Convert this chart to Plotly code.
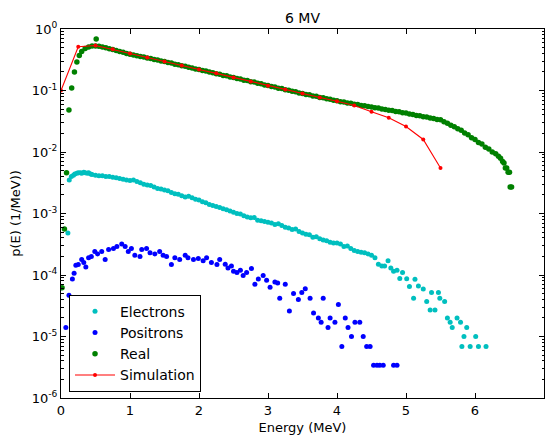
import plotly.graph_objects as go

# ---------------- data ----------------
electron_energy = [0.10, 0.12, 0.15, 0.18, 0.20, 0.23, 0.25, 0.28, 0.30, 0.33, 0.35, 0.38, 0.40, 0.43, 0.45,
                   0.50, 0.55, 0.60, 0.65, 0.70, 0.75, 0.80, 0.85, 0.90, 0.95, 1.00, 1.05, 1.10, 1.15, 1.20,
                   1.25, 1.30, 1.35, 1.40, 1.45, 1.50, 1.55, 1.60, 1.65, 1.70, 1.75, 1.80, 1.85, 1.90, 1.95,
                   2.00, 2.05, 2.10, 2.15, 2.20, 2.25, 2.30, 2.35, 2.40, 2.45, 2.50, 2.55, 2.60, 2.65, 2.70,
                   2.75, 2.80, 2.85, 2.90, 2.95, 3.00, 3.05, 3.10, 3.15, 3.20, 3.25, 3.30, 3.35, 3.40, 3.45,
                   3.50, 3.55, 3.60, 3.65, 3.70, 3.75, 3.80, 3.85, 3.90, 3.95, 4.00, 4.05, 4.10, 4.15, 4.20,
                   4.25, 4.30, 4.35, 4.40, 4.45, 4.50, 4.55, 4.60, 4.65, 4.69, 4.74, 4.78, 4.82, 4.87, 4.91,
                   4.95, 5.01, 5.05, 5.11, 5.13, 5.18, 5.25, 5.30, 5.35, 5.37, 5.42, 5.47, 5.49, 5.56, 5.60,
                   5.64, 5.67, 5.74, 5.79, 5.81, 5.84, 5.88, 5.93, 6.01, 6.05, 6.16]
electron_p = [4.8e-4, 3.5e-3, 4.0e-3, 4.2e-3, 4.4e-3, 4.5e-3, 4.6e-3, 4.6e-3, 4.5e-3, 4.7e-3, 4.6e-3, 4.5e-3, 4.6e-3, 4.4e-3, 4.3e-3,
              4.2e-3, 4.1e-3, 4.1e-3, 4.0e-3, 4.0e-3, 3.9e-3, 3.8e-3, 3.7e-3, 3.6e-3, 3.5e-3, 3.45e-3, 3.5e-3, 3.3e-3, 3.15e-3, 3.0e-3,
              2.9e-3, 2.85e-3, 2.7e-3, 2.55e-3, 2.5e-3, 2.4e-3, 2.35e-3, 2.2e-3, 2.1e-3, 2.05e-3, 1.95e-3, 1.85e-3, 1.9e-3, 1.8e-3, 1.7e-3,
              1.65e-3, 1.55e-3, 1.5e-3, 1.4e-3, 1.35e-3, 1.3e-3, 1.25e-3, 1.2e-3, 1.15e-3, 1.1e-3, 1.05e-3, 1.0e-3, 9.8e-4, 9.2e-4, 8.8e-4,
              8.5e-4, 8.6e-4, 7.8e-4, 7.6e-4, 7.4e-4, 7.2e-4, 7.0e-4, 6.6e-4, 6.8e-4, 6.4e-4, 6.0e-4, 5.8e-4, 5.5e-4, 5.6e-4, 5.1e-4,
              4.8e-4, 4.6e-4, 4.5e-4, 4.1e-4, 4.2e-4, 3.9e-4, 3.7e-4, 3.6e-4, 3.4e-4, 3.3e-4, 3.3e-4, 3.2e-4, 2.9e-4, 2.95e-4, 2.7e-4,
              2.5e-4, 2.4e-4, 2.35e-4, 2.3e-4, 2.2e-4, 2.1e-4, 1.9e-4, 1.5e-4, 1.4e-4, 1.4e-4, 1.7e-4, 1.3e-4, 1.15e-4, 1.2e-4, 8.8e-5,
              1.1e-4, 8.7e-5, 6.5e-5, 4.2e-5, 8.5e-5, 6.6e-5, 5.9e-5, 3.7e-5, 2.7e-5, 5.2e-5, 2.7e-5, 5.2e-5, 4.2e-5, 3.7e-5, 2.0e-5,
              1.7e-5, 1.4e-5, 2.0e-5, 1.7e-5, 6.9e-6, 1.0e-5, 1.4e-5, 6.9e-6, 1.0e-5, 6.9e-6, 6.9e-6]

positron_energy = [0.07, 0.115, 0.165, 0.19, 0.215, 0.25, 0.30, 0.33, 0.36, 0.40, 0.44, 0.49, 0.53, 0.59, 0.64,
                   0.69, 0.76, 0.81, 0.88, 0.93, 0.975, 1.02, 1.07, 1.145, 1.17, 1.24, 1.29, 1.36, 1.43, 1.48,
                   1.53, 1.60, 1.65, 1.72, 1.80, 1.84, 1.92, 1.99, 2.06, 2.11, 2.18, 2.26, 2.30, 2.38, 2.42,
                   2.47, 2.50, 2.55, 2.60, 2.64, 2.69, 2.76, 2.81, 2.86, 2.93, 2.98, 3.03, 3.10, 3.14, 3.17,
                   3.25, 3.31, 3.37, 3.44, 3.49, 3.54, 3.61, 3.66, 3.73, 3.77, 3.80, 3.87, 3.90, 3.97, 4.02,
                   4.07, 4.12, 4.16, 4.21, 4.26, 4.33, 4.38, 4.43, 4.48, 4.53, 4.58, 4.62, 4.67, 4.82, 4.87]
positron_p = [1.4e-5, 4.7e-5, 8.6e-5, 1.07e-4, 1.44e-4, 1.48e-4, 1.78e-4, 1.6e-4, 1.35e-4, 1.9e-4, 2.0e-4, 2.4e-4, 2.2e-4, 2.4e-4, 1.78e-4,
              2.6e-4, 2.7e-4, 2.9e-4, 3.2e-4, 2.9e-4, 2.4e-4, 2.7e-4, 2.1e-4, 2.0e-4, 2.6e-4, 2.7e-4, 2.3e-4, 2.2e-4, 2.4e-4, 2.1e-4,
              2.0e-4, 1.48e-4, 1.9e-4, 1.78e-4, 2.1e-4, 1.9e-4, 1.78e-4, 1.85e-4, 1.7e-4, 1.9e-4, 1.6e-4, 1.48e-4, 1.78e-4, 1.5e-4, 1.3e-4,
              1.4e-4, 1.15e-4, 1.1e-4, 1.2e-4, 9.8e-5, 1.1e-4, 1.28e-4, 7.1e-5, 8.6e-5, 9.8e-5, 8.2e-5, 6.3e-5, 7.7e-5, 7.4e-5, 4.2e-5,
              7.1e-5, 2.6e-5, 5.0e-5, 4.0e-5, 5.2e-5, 6.0e-5, 4.2e-5, 2.4e-5, 2.0e-5, 1.7e-5, 4.2e-5, 1.4e-5, 2.0e-5, 1.7e-5, 3.3e-5,
              6.9e-6, 2.0e-5, 1.4e-5, 1.0e-5, 1.7e-5, 1.7e-5, 1.0e-5, 6.9e-6, 6.9e-6, 3.4e-6, 3.4e-6, 3.4e-6, 3.4e-6, 3.4e-6, 3.4e-6]

real_energy = [0.015, 0.05, 0.08, 0.115, 0.155, 0.195, 0.23, 0.265, 0.30, 0.35, 0.40, 0.45, 0.50, 0.51,
               0.55, 0.60, 0.65, 0.70, 0.75, 0.80, 0.85, 0.90, 0.95, 1.00, 1.05, 1.10, 1.15, 1.20, 1.25,
               1.30, 1.35, 1.40, 1.45, 1.50, 1.55, 1.60, 1.65, 1.70, 1.75, 1.80, 1.85, 1.90, 1.95, 2.00,
               2.05, 2.10, 2.15, 2.20, 2.25, 2.30, 2.35, 2.40, 2.45, 2.50, 2.55, 2.60, 2.65, 2.70, 2.75,
               2.80, 2.85, 2.90, 2.95, 3.00, 3.05, 3.10, 3.15, 3.20, 3.25, 3.30, 3.35, 3.40, 3.45, 3.50,
               3.55, 3.60, 3.65, 3.70, 3.75, 3.80, 3.85, 3.90, 3.95, 4.00, 4.05, 4.10, 4.15, 4.20, 4.25,
               4.30, 4.35, 4.40, 4.45, 4.50, 4.55, 4.60, 4.65, 4.70, 4.75, 4.80, 4.85, 4.90, 4.95, 5.00,
               5.05, 5.10, 5.15, 5.20, 5.25, 5.30, 5.35, 5.40, 5.45, 5.50, 5.55, 5.60, 5.65, 5.70, 5.75,
               5.80, 5.85, 5.90, 5.95, 6.00, 6.05, 6.10, 6.15, 6.20, 6.25, 6.30, 6.34, 6.37, 6.40, 6.42,
               6.44, 6.46, 6.48, 6.50, 6.51, 6.53]
real_p = [6.2e-5, 5.6e-4, 4.6e-3, 0.048, 0.11, 0.20, 0.29, 0.37, 0.43, 0.48, 0.51, 0.53, 0.53, 0.69,
          0.525, 0.51, 0.495, 0.478, 0.465, 0.447, 0.430, 0.418, 0.401, 0.390, 0.377, 0.369, 0.356, 0.349, 0.337,
          0.331, 0.319, 0.313, 0.301, 0.296, 0.285, 0.279, 0.268, 0.263, 0.252, 0.248, 0.238, 0.233, 0.224, 0.219,
          0.211, 0.207, 0.199, 0.195, 0.187, 0.184, 0.176, 0.173, 0.166, 0.163, 0.156, 0.154, 0.147, 0.145, 0.139,
          0.137, 0.131, 0.129, 0.123, 0.121, 0.116, 0.114, 0.109, 0.108, 0.103, 0.101, 0.0968, 0.0952, 0.0911, 0.0897,
          0.0861, 0.0849, 0.0815, 0.0803, 0.0771, 0.0760, 0.0731, 0.0719, 0.0691, 0.0680, 0.0658, 0.0650, 0.0628, 0.0620, 0.0600,
          0.0593, 0.0572, 0.0566, 0.0547, 0.0541, 0.0522, 0.0517, 0.0498, 0.0493, 0.0476, 0.0471, 0.0455, 0.0450, 0.0435, 0.0430,
          0.0414, 0.0409, 0.0394, 0.0389, 0.0375, 0.0370, 0.0357, 0.0352, 0.0339, 0.0333, 0.0309, 0.0293, 0.0271, 0.0258, 0.0238,
          0.0226, 0.0203, 0.0190, 0.0171, 0.0160, 0.0143, 0.0135, 0.0120, 0.0112, 0.0100, 0.0094, 0.0085, 0.0079, 0.0070, 0.0066,
          0.0055, 0.0055, 0.0047, 0.0047, 0.0027, 0.0027]

sim_energy = [0.0, 0.25, 0.5, 0.75, 1.0, 1.25, 1.5, 1.75, 2.0, 2.25, 2.5, 2.75, 3.0, 3.25, 3.5, 3.75,
              4.0, 4.25, 4.5, 4.75, 5.0, 5.25, 5.5]
sim_p = [0.10, 0.515, 0.54, 0.47, 0.40, 0.345, 0.295, 0.255, 0.22, 0.19, 0.163, 0.14, 0.12, 0.104, 0.089, 0.077,
         0.067, 0.057, 0.045, 0.036, 0.026, 0.016, 0.0055]

y_tick_vals = [1e-6, 1e-5, 1e-4, 1e-3, 1e-2, 1e-1, 1e0]
y_tick_text = ["10<sup>-6</sup>", "10<sup>-5</sup>", "10<sup>-4</sup>", "10<sup>-3</sup>",
               "10<sup>-2</sup>", "10<sup>-1</sup>", "10<sup>0</sup>"]
y_minor_vals = [m * 10.0 ** e for e in range(-6, 0) for m in range(2, 10)]

# ---------------- figure ----------------
fig = go.Figure()
fig.add_trace(go.Scatter(x=electron_energy, y=electron_p, mode="markers", name="Electrons",
                         marker=dict(color="#00BFBF", size=5, line=dict(width=0))))
fig.add_trace(go.Scatter(x=positron_energy, y=positron_p, mode="markers", name="Positrons",
                         marker=dict(color="#0000FF", size=5, line=dict(width=0))))
fig.add_trace(go.Scatter(x=real_energy, y=real_p, mode="markers", name="Real",
                         marker=dict(color="#008000", size=5.5, line=dict(width=0))))
fig.add_trace(go.Scatter(x=sim_energy, y=sim_p, mode="lines+markers", name="Simulation",
                         line=dict(color="#FF0000", width=1.1),
                         marker=dict(color="#FF0000", size=4, line=dict(width=0))))

fig.update_layout(
    width=545, height=437,
    margin=dict(l=61, r=1, t=29, b=39, autoexpand=False),
    paper_bgcolor="white", plot_bgcolor="white",
    font=dict(family="DejaVu Sans", color="black", size=13),
    title=dict(text="6 MV", x=0.5, xref="paper", xanchor="center",
               y=1 - 18 / 437, yref="container", yanchor="middle",
               font=dict(size=14, color="black"), automargin=False),
    showlegend=True,
    legend=dict(x=0.0166, y=0.017, xanchor="left", yanchor="bottom",
                bgcolor="white", bordercolor="black", borderwidth=1,
                font=dict(size=14, color="black"), itemwidth=40),
)
fig.update_xaxes(range=[0, 7], dtick=1, tick0=0, ticks="inside", ticklen=5, tickwidth=1,
                 tickcolor="black", showline=True, linecolor="black", linewidth=1,
                 mirror="ticks", showgrid=False, zeroline=False, automargin=False,
                 tickfont=dict(size=13, color="black"),
                 title=dict(text="Energy (MeV)", font=dict(size=13), standoff=6))
fig.update_yaxes(type="log", range=[-6, 0], tickmode="array", tickvals=y_tick_vals,
                 ticktext=y_tick_text, ticks="inside", ticklen=5, tickwidth=1,
                 tickcolor="black", showline=True, linecolor="black", linewidth=1,
                 mirror="allticks", showgrid=False, zeroline=False, automargin=False,
                 tickfont=dict(size=13, color="black"),
                 minor=dict(tickmode="array", tickvals=y_minor_vals, ticks="inside",
                            ticklen=2.5, tickwidth=1, tickcolor="black", showgrid=False),
                 title=dict(text="p(E) (1/MeV))", font=dict(size=13), standoff=8))

fig.write_html("out.html", config={"displayModeBar": False},
               post_script="document.body.style.margin='0';document.body.style.overflow='hidden';")
